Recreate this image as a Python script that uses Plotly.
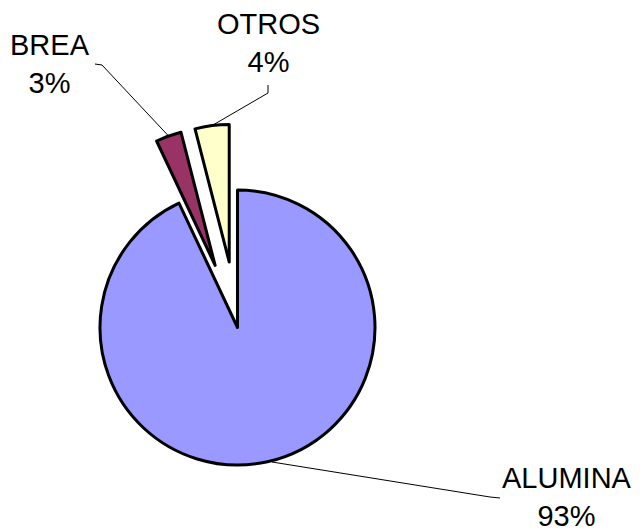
import math
import plotly.graph_objects as go

labels = ["ALUMINA", "BREA", "OTROS"]
values = [93, 3, 4]
pct_text = ["93%", "3%", "4%"]
colors = ["#9999FF", "#993366", "#FFFFCC"]
pulls = [0, 0.48, 0.48]

# page has an 8px body margin; work in window pixels and convert
OFF = 8
W, H = 640 - OFF, 531 - OFF
cx, cy, r = 237.5, 327.5, 137.5


def px(x, y):
    return (x - OFF) / W, 1 - (y - OFF) / H


half = r * (1 + max(pulls))
x0, y0 = px(cx - half, cy - half)
x1, y1 = px(cx + half, cy + half)
dom_x = [max(0, x0), min(1, x1)]
dom_y = [max(0, y1), min(1, y0)]

fig = go.Figure(go.Pie(
    labels=labels, values=values, sort=False, direction="clockwise", rotation=0,
    marker=dict(colors=colors, line=dict(color="black", width=3)),
    pull=pulls, textinfo="none", hoverinfo="skip", showlegend=False,
    domain=dict(x=dom_x, y=dom_y),
))

# geometry of slice outer mid-points
total = sum(values)
start = 0.0
mids = []
for v, p in zip(values, pulls):
    a = (start + v / 2) / total * 2 * math.pi
    dx, dy = math.sin(a), -math.cos(a)
    ox, oy = cx + dx * r * p, cy + dy * r * p
    mids.append((ox + dx * r, oy + dy * r))
    start += v

label_pos = [(567, 497), (50, 64), (268, 43)]
paths = [
    [(272, 462), (490, 497), (500, 498)],
    [mids[1], (102, 65), (95, 64)],
    [mids[2], (268, 93), (268, 85)],
]
shapes = []
for pts in paths:
    d = "M " + " L ".join(f"{px(x, y)[0]},{px(x, y)[1]}" for x, y in pts)
    shapes.append(dict(type="path", path=d, xref="paper", yref="paper",
                       line=dict(color="black", width=1)))

annotations = []
for lab, t, (x, y) in zip(labels, pct_text, label_pos):
    ax, ay = px(x, y)
    annotations.append(dict(text=f"{lab}<br>{t}", x=ax, y=ay, xref="paper", yref="paper",
                            showarrow=False, xanchor="center", yanchor="middle",
                            font=dict(family="Liberation Sans, Arial", size=29, color="black")))

fig.update_layout(
    width=W, height=H, margin=dict(l=0, r=0, t=0, b=0),
    paper_bgcolor="white", plot_bgcolor="white",
    shapes=shapes, annotations=annotations,
)
fig.write_html("out.html")
